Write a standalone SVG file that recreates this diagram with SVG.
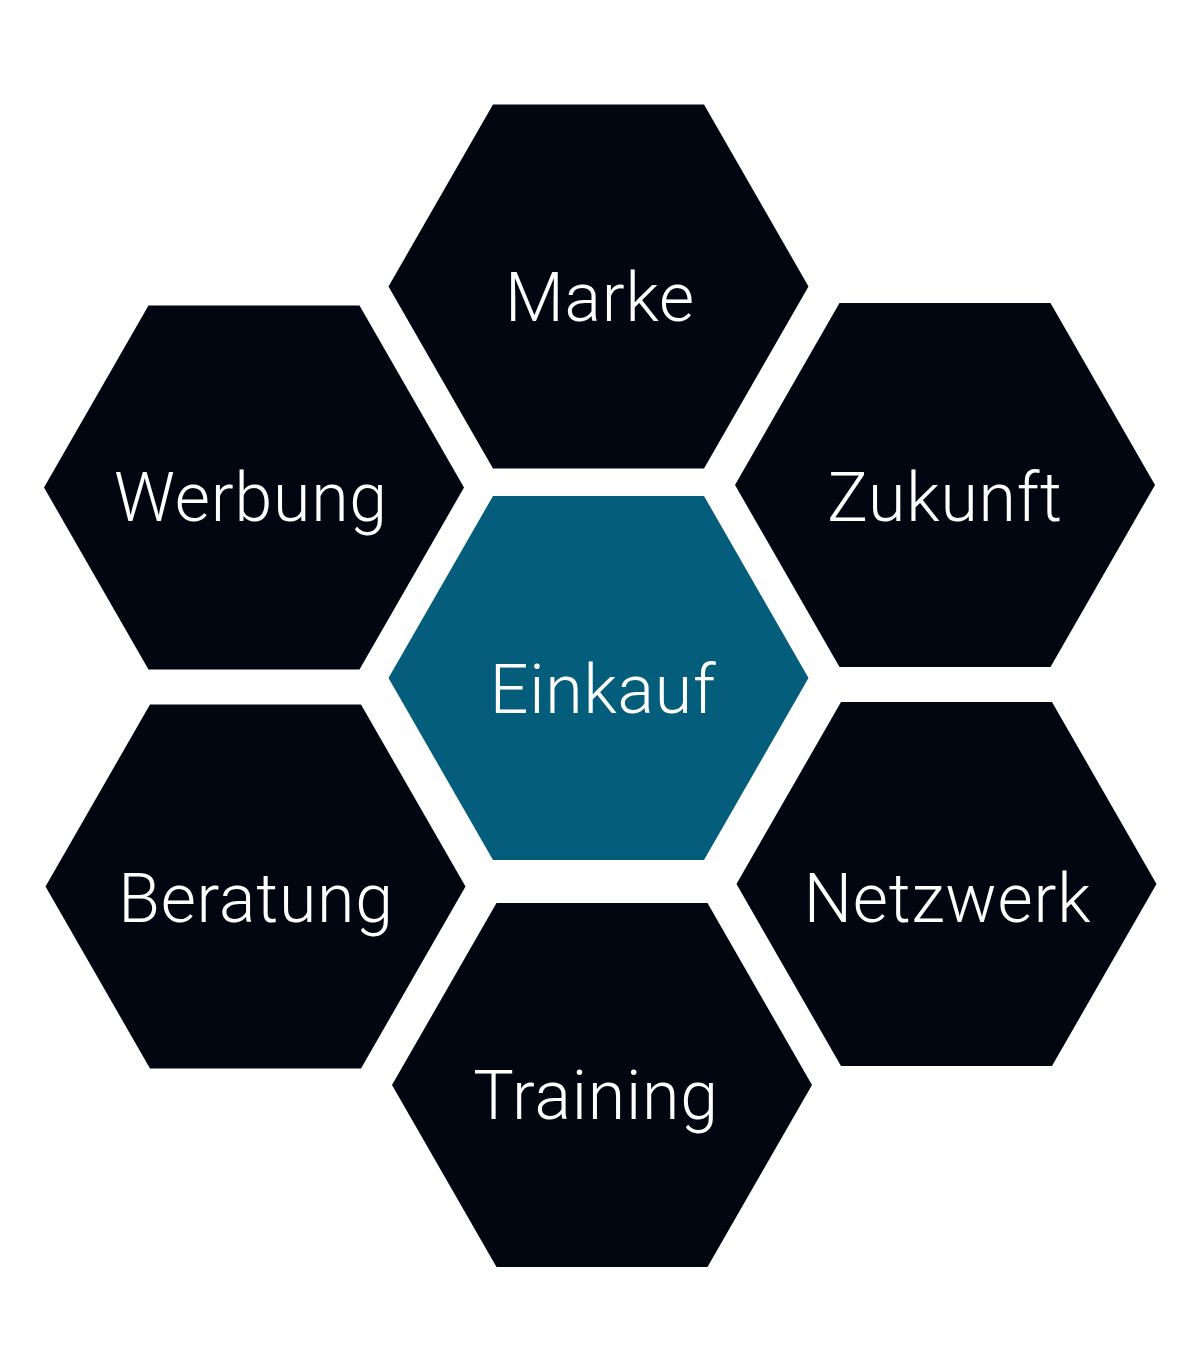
<svg xmlns="http://www.w3.org/2000/svg" width="1200" height="1372" viewBox="0 0 1200 1372">
<style>
.hex{fill:#020611}
.hex.center{fill:#035d7b}
.lbl{fill:#ffffff;font-family:Roboto,"Liberation Sans",sans-serif;font-weight:300;font-size:68px;letter-spacing:0.8px;text-anchor:middle}
</style>
<defs>
<polygon id="hx" points="-105.5,-182 105.5,-182 210,0 105.5,182 -105.5,182 -210,0"/>
</defs>
<rect width="1200" height="1372" fill="#ffffff"/>
<g id="connectors"/>
<g id="marke"><use href="#hx" class="hex" transform="translate(598.5,286.5)"/><text class="lbl" x="600" y="321">Marke</text></g>
<g id="werbung"><use href="#hx" class="hex" transform="translate(254,487.5)"/><text class="lbl" x="251" y="521">Werbung</text></g>
<g id="zukunft"><use href="#hx" class="hex" transform="translate(945,485)"/><text class="lbl" x="945" y="521">Zukunft</text></g>
<g id="einkauf"><use href="#hx" class="hex center" transform="translate(598.5,678)"/><text class="lbl" x="603" y="713">Einkauf</text></g>
<g id="beratung"><use href="#hx" class="hex" transform="translate(255.5,886.5)"/><text class="lbl" x="256" y="922">Beratung</text></g>
<g id="netzwerk"><use href="#hx" class="hex" transform="translate(946.5,884)"/><text class="lbl" x="947.5" y="922">Netzwerk</text></g>
<g id="training"><use href="#hx" class="hex" transform="translate(602,1085)"/><text class="lbl" x="596" y="1119">Training</text></g>
</svg>
